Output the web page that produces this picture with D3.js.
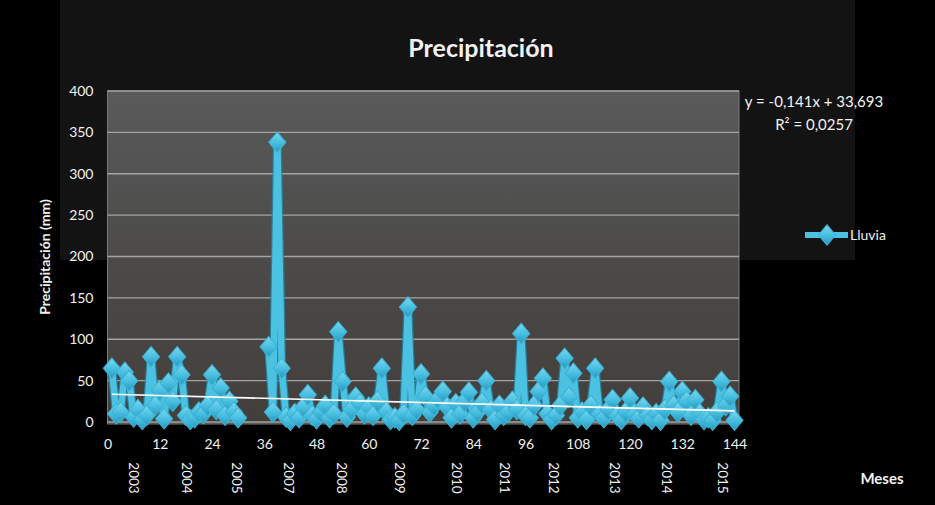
<!DOCTYPE html>
<html>
<head>
<meta charset="utf-8">
<script src="https://cdn.jsdelivr.net/npm/d3@7"></script>
<style>
  html, body { margin: 0; padding: 0; background: #000; }
  svg { display: block; }
  text { font-family: Lato, "Open Sans", sans-serif; fill: #f2f2f2; }
</style>
</head>
<body>
<svg id="chart" width="935" height="505"></svg>
<script>
// Monthly rainfall (mm), one row per year; 2006 has no record and the
// last months of 2005 are missing.
const months = d3.range(1, 145);
const lluvia = [
  65, 10, 12, 60, 50, 6, 15, 3, 8, 79, 20, 38,        // 2003
  4, 47, 25, 79, 57, 8, 3, 5, 12, 10, 20, 57,         // 2004
  15, 41, 8, 25, 12, 5, null, null, null, null, null, null, // 2005
  91, 12, 338, 65, 6, 2, 10, 5, 18, 33, 8, 4,         // 2007
  12, 20, 5, 10, 109, 49, 6, 15, 30, 22, 10, 18,      // 2008
  8, 25, 65, 12, 3, 5, 2, 10, 139, 8, 15, 58,         // 2009
  31, 12, 20, 28, 37, 18, 5, 22, 10, 25, 36, 5,       // 2010
  12, 23, 50, 15, 3, 20, 8, 12, 25, 15, 107, 8,       // 2011
  5, 20, 37, 53, 10, 3, 8, 20, 77, 30, 59, 5,         // 2012
  12, 3, 20, 65, 10, 5, 15, 27, 8, 3, 12, 29,         // 2013
  10, 5, 18, 8, 3, 10, 2, 15, 49, 20, 12, 37,         // 2014
  25, 8, 27, 10, 3, 5, 2, 12, 49, 20, 31, 2           // 2015
];
const xTicks = d3.range(0, 145, 12);
const yTicks = d3.range(0, 401, 50);
const yearLabels = ["2003", "2004", "2005", "2007", "2008", "2009", "2010", "2011", "2012", "2013", "2014", "2015"];
const yearPos = [6, 18.2, 29.7, 41.7, 53.9, 67.2, 80.2, 91.3, 102.4, 116.6, 128.4, 141.3];
// Linear trend fitted to the series
const trendSlope = -0.141;
const trendIntercept = 33.693;
const trendText = ["y = -0,141x + 33,693", "R\u00b2 = 0,0257"];

const svg = d3.select("#chart");
const defs = svg.append("defs");

const x = d3.scaleLinear().domain([0, 144]).range([107.5, 734.5]);
const y = d3.scaleLinear().domain([0, 400]).range([422, 91]);
const plot = { left: 107.5, right: 739, top: 91, bottom: 424 };

// Backdrop
svg.append("rect").attr("width", 935).attr("height", 505).attr("fill", "#000");
svg.append("rect").attr("x", 60).attr("y", 0).attr("width", 795).attr("height", 260).attr("fill", "#131313");

// Plot area
const pg = defs.append("linearGradient").attr("id", "plotFill").attr("x1", 0).attr("y1", 0).attr("x2", 0).attr("y2", 1);
pg.append("stop").attr("offset", "0%").attr("stop-color", "#5a5a5a");
pg.append("stop").attr("offset", "50%").attr("stop-color", "#4c4b4a");
pg.append("stop").attr("offset", "100%").attr("stop-color", "#423e3b");
svg.append("rect")
  .attr("x", plot.left).attr("y", plot.top)
  .attr("width", plot.right - plot.left).attr("height", plot.bottom - plot.top)
  .attr("fill", "url(#plotFill)").attr("stroke", "#7a7a7a").attr("stroke-width", 1);

// Gridlines
svg.append("g").selectAll("line").data(yTicks).join("line")
  .attr("x1", plot.left).attr("x2", plot.right)
  .attr("y1", d => y(d)).attr("y2", d => y(d))
  .attr("stroke", "#a3a3a3").attr("stroke-width", 1.4);

// Axes (labels only)
const yAxis = svg.append("g").attr("transform", `translate(${plot.left},0)`)
  .call(d3.axisLeft(y).tickValues(yTicks).tickSize(0).tickPadding(14));
yAxis.select(".domain").remove();
yAxis.selectAll("text").style("font-size", "14px").style("fill", "#f2f2f2").style("font-family", "Lato, sans-serif");

const xAxis = svg.append("g").attr("transform", `translate(0,${plot.bottom})`)
  .call(d3.axisBottom(x).tickValues(xTicks).tickSize(0).tickPadding(15));
xAxis.select(".domain").remove();
xAxis.selectAll("text").style("font-size", "14px").style("fill", "#f2f2f2").style("font-family", "Lato, sans-serif");

// Year labels under the month ticks
svg.append("g").selectAll("text").data(yearLabels).join("text")
  .attr("transform", (d, i) => `translate(${x(yearPos[i])},478) rotate(90)`)
  .attr("text-anchor", "middle").attr("dy", "0.35em")
  .style("font-size", "13.5px")
  .text(d => d);

// Series
const pts = months.map((m, i) => ({ m, v: lluvia[i] }));
const line = d3.line().defined(d => d.v !== null).x(d => x(d.m)).y(d => y(d.v));

svg.append("path").datum(pts).attr("d", line)
  .attr("fill", "none").attr("stroke", "#2688a8").attr("stroke-width", 9)
  .attr("stroke-linejoin", "round").attr("stroke-opacity", 0.8);
svg.append("path").datum(pts).attr("d", line)
  .attr("fill", "none").attr("stroke", "#4cc2e2").attr("stroke-width", 6.5)
  .attr("stroke-linejoin", "round");

const mg = defs.append("linearGradient").attr("id", "markerFill").attr("x1", 0).attr("y1", 0).attr("x2", 0).attr("y2", 1);
mg.append("stop").attr("offset", "0%").attr("stop-color", "#7ad8f0");
mg.append("stop").attr("offset", "55%").attr("stop-color", "#45bddf");
mg.append("stop").attr("offset", "100%").attr("stop-color", "#2696bc");

const diamond = d3.symbol(d3.symbolDiamond, 120)();
svg.append("g").selectAll("path").data(pts.filter(d => d.v !== null)).join("path")
  .attr("d", diamond)
  .attr("transform", d => `translate(${x(d.m)},${y(d.v)}) scale(1.45,1)`)
  .attr("fill", "url(#markerFill)").attr("stroke", "#3db3d6").attr("stroke-width", 0.8);

// Trend line
svg.append("line")
  .attr("x1", x(1)).attr("x2", x(144))
  .attr("y1", y(trendIntercept + trendSlope * 1)).attr("y2", y(trendIntercept + trendSlope * 144))
  .attr("stroke", "#ffffff").attr("stroke-width", 1.6);

// Trend equation
svg.append("text").attr("x", 814).attr("y", 107).attr("text-anchor", "middle")
  .style("font-size", "15px").text(trendText[0]);
svg.append("text").attr("x", 814).attr("y", 130).attr("text-anchor", "middle")
  .style("font-size", "15px").text(trendText[1]);

// Legend
const lg = svg.append("g").attr("transform", "translate(805,235)");
lg.append("line").attr("x1", 0).attr("x2", 43).attr("stroke", "#4cc2e2").attr("stroke-width", 6);
lg.append("path").attr("d", diamond).attr("transform", "translate(22,0) scale(1.45,1)")
  .attr("fill", "url(#markerFill)").attr("stroke", "#3db3d6").attr("stroke-width", 0.8);
lg.append("text").attr("x", 45).attr("y", 0).attr("dy", "0.35em").style("font-size", "14px").text("Lluvia");

// Titles
svg.append("text").attr("x", 481).attr("y", 57).attr("text-anchor", "middle")
  .style("font-size", "25px").style("font-weight", "bold").text("Precipitación");
svg.append("text").attr("transform", "translate(50,257) rotate(-90)").attr("text-anchor", "middle")
  .style("font-size", "14px").style("font-weight", "bold").text("Precipitación (mm)");
svg.append("text").attr("x", 882).attr("y", 484).attr("text-anchor", "middle")
  .style("font-size", "15px").style("font-weight", "bold").text("Meses");
</script>
</body>
</html>
